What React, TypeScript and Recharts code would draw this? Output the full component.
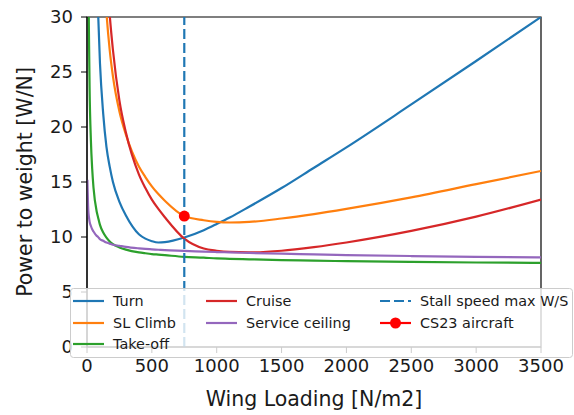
import {
  ComposedChart,
  Line,
  XAxis,
  YAxis,
  ReferenceLine,
  ReferenceDot,
  ReferenceArea,
} from 'recharts';

// wing loading samples [N/m2] shared by every constraint curve
const wingLoading = [3, 10, 15, 20, 30, 40, 50, 75, 85, 100, 125, 150, 175, 200, 250, 300, 400, 450, 500, 550, 600, 750, 900, 1000, 1100, 1250, 1500, 1750, 2000, 2500, 3000, 3500];

// power to weight [W/N]; null where the curve is off the top of the plot
const turn = [null, null, null, null, null, null, null, 34.5, 30.6, 25.8, 21.2, 18.2, 16.4, 15.0, 13.2, 11.95, 10.25, 9.85, 9.62, 9.5, 9.53, 9.95, 10.62, 11.18, 11.77, 12.75, 14.45, 16.3, 18.15, 22.05, 26.0, 30.0];
const slClimb = [null, null, null, null, null, null, null, null, null, null, 35.5, 30.4, 27.0, 24.6, 21.4, 19.3, 16.4, 15.45, 14.6, 13.9, 13.3, 11.9, 11.52, 11.37, 11.32, 11.37, 11.68, 12.08, 12.55, 13.6, 14.8, 16.0];
const takeOff = [null, 34.0, 28.5, 23.5, 18.8, 16.2, 14.5, 12.3, 11.8, 11.1, 10.4, 9.95, 9.6, 9.35, 9.05, 8.85, 8.6, 8.52, 8.45, 8.4, 8.35, 8.2, 8.12, 8.05, 8.02, 7.97, 7.9, 7.85, 7.8, 7.73, 7.68, 7.65];
const cruise = [null, null, null, null, null, null, null, null, null, null, null, 34.5, 30.2, 27.0, 22.4, 19.5, 15.7, 14.45, 13.4, 12.55, 11.8, 9.85, 8.95, 8.75, 8.64, 8.6, 8.75, 9.08, 9.5, 10.55, 11.85, 13.4];
const serviceCeiling = [15.2, 12.4, 11.8, 11.4, 11.0, 10.7, 10.5, 10.1, 10.0, 9.8, 9.65, 9.5, 9.4, 9.3, 9.2, 9.1, 8.97, 8.92, 8.88, 8.84, 8.8, 8.74, 8.67, 8.63, 8.6, 8.55, 8.48, 8.42, 8.36, 8.27, 8.2, 8.15];

const stallMaxWingLoading = 750;
const cs23WingLoading = 750;
const cs23PowerToWeight = 11.9;

const xTicks = [0, 500, 1000, 1500, 2000, 2500, 3000, 3500];
const yTicks = [0, 5, 10, 15, 20, 25, 30];

const data = wingLoading.map((ws, i) => ({
  ws,
  turn: turn[i],
  slClimb: slClimb[i],
  takeOff: takeOff[i],
  cruise: cruise[i],
  serviceCeiling: serviceCeiling[i],
}));

const FONT = '"DejaVu Sans", sans-serif';
const BLUE = '#1f77b4';
const ORANGE = '#ff7f0e';
const GREEN = '#2ca02c';
const RED = '#d62728';
const PURPLE = '#9467bd';

const series = [
  { key: 'turn', color: BLUE },
  { key: 'slClimb', color: ORANGE },
  { key: 'takeOff', color: GREEN },
  { key: 'cruise', color: RED },
  { key: 'serviceCeiling', color: PURPLE },
];

const legendItems = [
  { label: 'Turn', color: BLUE, col: 0, row: 0, kind: 'line' },
  { label: 'SL Climb', color: ORANGE, col: 0, row: 1, kind: 'line' },
  { label: 'Take-off', color: GREEN, col: 0, row: 2, kind: 'line' },
  { label: 'Cruise', color: RED, col: 1, row: 0, kind: 'line' },
  { label: 'Service ceiling', color: PURPLE, col: 1, row: 1, kind: 'line' },
  { label: 'Stall speed max W/S', color: BLUE, col: 2, row: 0, kind: 'dash' },
  { label: 'CS23 aircraft', color: '#ff0000', col: 2, row: 1, kind: 'dot' },
];
const colX = [73, 206, 380];
const rowY = [301, 323, 344];

function LegendBox() {
  return (
    <svg
      width={574}
      height={415}
      style={{ position: 'absolute', left: 0, top: 0, pointerEvents: 'none' }}
    >
      <rect
        x={70.5}
        y={288.5}
        width={502}
        height={69}
        rx={3}
        fill="#fff"
        fillOpacity={0.8}
        stroke="#cccccc"
      />
      {legendItems.map((it) => {
        const x = colX[it.col];
        const y = rowY[it.row];
        return (
          <g key={it.label}>
            <line
              x1={x}
              x2={x + 31}
              y1={y}
              y2={y}
              stroke={it.color}
              strokeWidth={2.2}
              strokeDasharray={it.kind === 'dash' ? '10 4' : undefined}
            />
            {it.kind === 'dot' && <circle cx={x + 15.5} cy={y} r={5.5} fill={it.color} />}
            <text
              x={x + 40}
              y={y}
              dominantBaseline="central"
              fontFamily={FONT}
              fontSize={14.4}
              fill="#1a1a1a"
            >
              {it.label}
            </text>
          </g>
        );
      })}
    </svg>
  );
}

export default function App() {
  return (
    <div style={{ position: 'absolute', left: 0, top: 0, width: 574, height: 415, background: '#fff' }}>
      <ComposedChart
        width={574}
        height={415}
        data={data}
        margin={{ top: 17, right: 33, bottom: 0, left: 0 }}
      >
        <XAxis
          dataKey="ws"
          type="number"
          domain={[0, 3500]}
          ticks={xTicks}
          allowDataOverflow
          height={68}
          tickSize={6}
          tickMargin={6}
          stroke="#000"
          tick={{ fill: '#1a1a1a', fontSize: 18, fontFamily: FONT }}
          label={{
            value: 'Wing Loading [N/m2]',
            position: 'insideBottom',
            offset: 9,
            style: { fill: '#1a1a1a', fontSize: 20.5, fontFamily: FONT },
          }}
        />
        <YAxis
          type="number"
          domain={[0, 30]}
          ticks={yTicks}
          allowDataOverflow
          width={87}
          tickSize={6}
          tickMargin={8}
          stroke="#000"
          tick={{ fill: '#1a1a1a', fontSize: 18, fontFamily: FONT }}
          label={{
            value: 'Power to weight [W/N]',
            angle: -90,
            position: 'insideLeft',
            offset: 25,
            style: { fill: '#1a1a1a', fontSize: 20.5, fontFamily: FONT, textAnchor: 'middle' },
          }}
        />
        {series.map((s) => (
          <Line
            key={s.key}
            dataKey={s.key}
            type="monotone"
            stroke={s.color}
            strokeWidth={2.2}
            dot={false}
            activeDot={false}
            isAnimationActive={false}
          />
        ))}
        <ReferenceLine
          segment={[
            { x: stallMaxWingLoading, y: 0 },
            { x: stallMaxWingLoading, y: 30 },
          ]}
          stroke={BLUE}
          strokeWidth={2.2}
          strokeDasharray="10 4"
        />
        <ReferenceDot
          x={cs23WingLoading}
          y={cs23PowerToWeight}
          r={5.5}
          fill="#ff0000"
          stroke="none"
        />
        <ReferenceArea
          x1={0}
          x2={3500}
          y1={0}
          y2={30}
          fill="none"
          stroke="#000"
          strokeWidth={1.2}
        />
      </ComposedChart>
      <LegendBox />
    </div>
  );
}
